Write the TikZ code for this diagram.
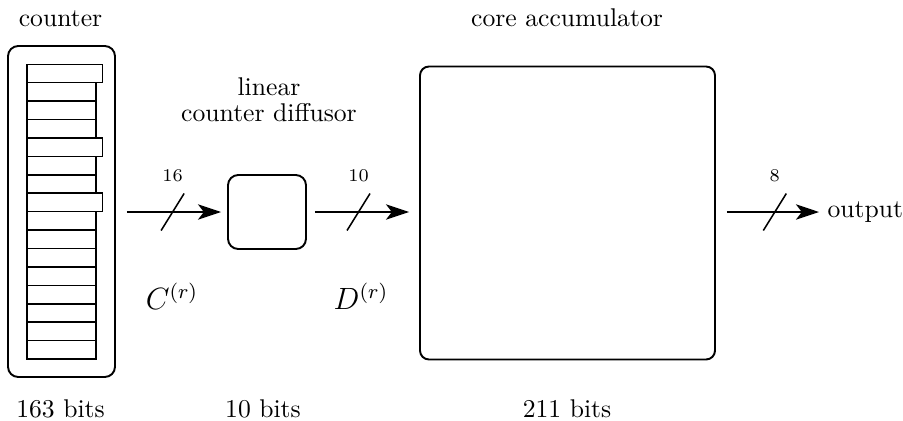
\documentclass[tikz,border=0pt]{standalone}
\usetikzlibrary{arrows.meta,calc}
\begin{document}
\begin{tikzpicture}[x=0.39pt,y=-0.39pt,
  box/.style={draw,line width=0.75pt,inner sep=0pt},
  slot/.style={draw,line width=0.6pt},
  conn/.style={line width=0.75pt,-{Stealth[length=9pt,width=6pt,inset=2.3pt]}},
  tick/.style={line width=0.6pt},
  lbl/.style={inner sep=0pt,anchor=base},
  bw/.style={font=\scriptsize,inner sep=0pt}]
\useasboundingbox (0,0) rectangle (903,420);
% counter
\node[box,rounded corners=4pt,minimum width=107*0.39pt,minimum height=331*0.39pt] (counter) at (61.5,211.5) {};
\foreach \i in {0,...,15}{
  \pgfmathsetmacro{\yt}{64.3+\i*18.42}
  \pgfmathsetmacro{\yb}{\yt+18.42}
  \ifnum\i=0 \def\xr{102.7}\else\ifnum\i=4 \def\xr{102.7}\else\ifnum\i=7 \def\xr{102.7}\else\def\xr{96}\fi\fi\fi
  \draw[slot] (27,\yt) rectangle (\xr,\yb);
}
% diffusor
\node[box,rounded corners=4pt,minimum width=78*0.39pt,minimum height=74*0.39pt] (diff) at (267,212) {};
% core
\node[box,rounded corners=3.5pt,minimum width=295*0.39pt,minimum height=293*0.39pt] (core) at (567.5,213) {};
% output
\node[anchor=west,inner sep=0pt] (out) at (827,212) {output};
% connectors
\draw[conn,shorten <=11*0.39pt,shorten >=6*0.39pt] (counter.east |- diff.west) -- (diff.west) coordinate[pos=0.51] (m1);
\draw[conn,shorten <=8*0.39pt,shorten >=10*0.39pt] (diff.east) -- (core.west |- diff.east) coordinate[pos=0.46] (m2);
\draw[conn,shorten <=11*0.39pt,shorten >=8*0.39pt] (core.east |- out.west) -- (out.west) coordinate[pos=0.53] (m3);
% slashes
\foreach \m/\n in {m1/16,m2/10,m3/8}{
  \draw[tick] ($(\m)+(-11.5,18.5)$) -- ($(\m)+(11.5,-18.5)$);
  \node[bw] at ($(\m)+(0,-36)$) {\n};
}
% labels
\node[lbl] at (60.5,26.7) {counter};
\node[lbl,align=center,font=\fontsize{10}{10}\selectfont] at (269,121) {linear\\counter diffusor};
\node[lbl] at (567,26.7) {core accumulator};
\node[lbl] at (60.5,417) {163 bits};
\node[lbl] at (263,417) {10 bits};
\node[lbl] at (567,417) {211 bits};
\node[inner sep=0pt,font=\large] at (172,296) {$C^{(r)}$};
\node[inner sep=0pt,font=\large] at (361,296) {$D^{(r)}$};
\end{tikzpicture}
\end{document}
